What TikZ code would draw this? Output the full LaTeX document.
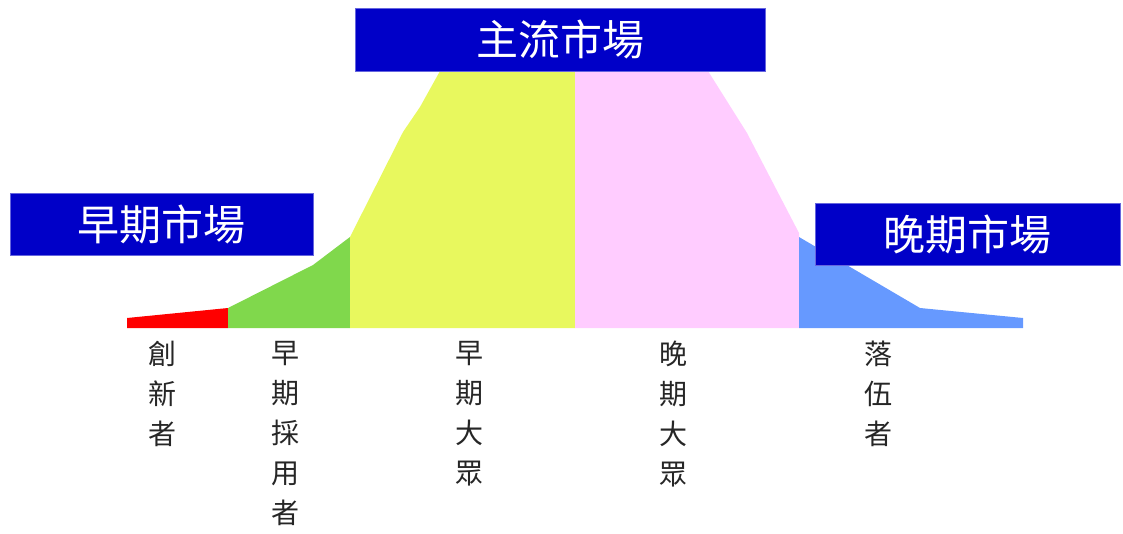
\documentclass[tikz,border=0pt]{standalone}
\usepackage{fontspec}
\newfontfamily\cjk{Noto Sans CJK TC}
\definecolor{boxblue}{RGB}{0,0,200}
\definecolor{cred}{RGB}{255,0,0}
\definecolor{cgreen}{RGB}{128,216,76}
\definecolor{cyellow}{RGB}{232,248,94}
\definecolor{cpink}{RGB}{255,204,255}
\definecolor{cblue}{RGB}{102,153,255}
\newcommand{\lowered}[1]{\raisebox{-2pt}{#1}}
\tikzset{
  market/.style={fill=boxblue, draw=boxblue!60, line width=0.6pt, text=white, inner sep=0pt,
    font=\cjk\fontsize{42}{42}\selectfont},
  seglabel/.style={anchor=north, align=center, inner sep=0pt, text=black!85,
    font=\cjk\fontsize{28}{40}\selectfont}
}
\begin{document}
\begin{tikzpicture}[x=1pt,y=-1pt]
\useasboundingbox (0,0) rectangle (1123,533);
% segments
\fill[cred] (127,328) -- (127,318) -- (228,308) -- (228,328) -- cycle;
\fill[cgreen] (228,328) -- (228,308) -- (313,265) -- (350,237) -- (350,328) -- cycle;
\fill[cyellow] (350,328) -- (350,237) -- (403,132) -- (420,107) -- (440,71) -- (452,50) -- (575,50) -- (575,328) -- cycle;
\fill[cpink] (575,328) -- (575,50) -- (696,50) -- (708,71) -- (747,133) -- (799,233) -- (799,328) -- cycle;
\fill[cblue] (799,328) -- (799,237) -- (920,308) -- (1023,318) -- (1023,328) -- cycle;
% market boxes
\node[market, minimum width=303pt, minimum height=62pt] (early) at (161.5,224.5) {\lowered{早期市場}};
\node[market, minimum width=410pt, minimum height=63pt] (main) at (560.5,39.5) {\lowered{主流市場}};
\node[market, minimum width=305pt, minimum height=62pt] (late) at (967.5,234) {\lowered{晚期市場}};
% labels
\node[seglabel] (innov) at (162,341) {創\\新\\者};
\node[seglabel] (adopt) at (285,341) {早\\期\\採\\用\\者};
\node[seglabel] (emaj) at (469,341) {早\\期\\大\\眾};
\node[seglabel] (lmaj) at (673,341) {晚\\期\\大\\眾};
\node[seglabel] (lag) at (878,341) {落\\伍\\者};
\end{tikzpicture}
\end{document}
